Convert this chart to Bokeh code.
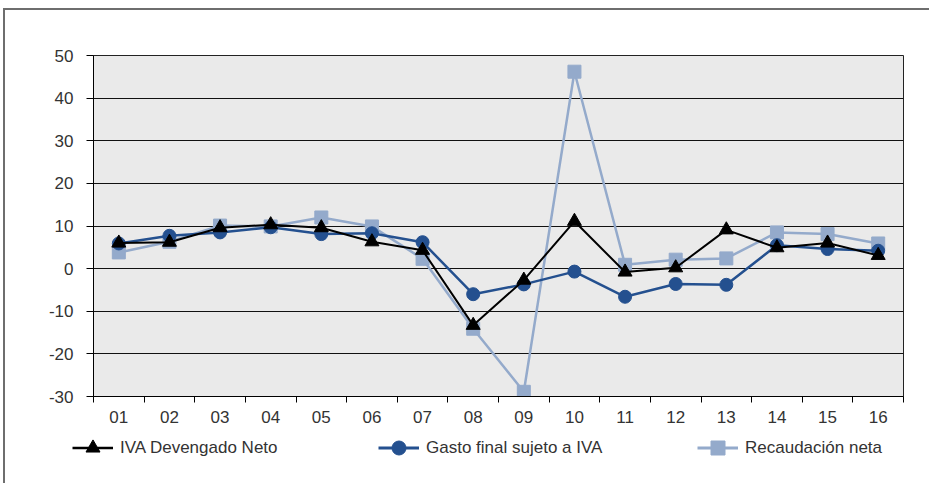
from bokeh.plotting import figure
from bokeh.layouts import column
from bokeh.models import Legend, LegendItem, FixedTicker, Range1d
from bokeh.embed import file_html
from bokeh.resources import INLINE

categories = ["01", "02", "03", "04", "05", "06", "07", "08",
              "09", "10", "11", "12", "13", "14", "15", "16"]
iva_devengado = [6.0, 6.2, 9.6, 10.3, 9.6, 6.3, 4.3, -13.3,
                 -2.7, 11.1, -0.8, 0.2, 9.1, 4.9, 6.0, 3.1]
gasto_final = [5.9, 7.7, 8.5, 9.7, 8.1, 8.3, 6.2, -6.0,
               -3.7, -0.7, -6.6, -3.6, -3.8, 5.5, 4.6, 4.2]
recaudacion = [3.8, 6.3, 10.1, 9.9, 12.0, 9.9, 2.3, -14.1,
               -28.9, 46.2, 0.9, 2.1, 2.4, 8.5, 8.1, 5.9]
y_ticks = [-30, -20, -10, 0, 10, 20, 30, 40, 50]
series_names = ["IVA Devengado Neto", "Gasto final sujeto a IVA", "Recaudación neta"]

x = list(range(1, len(categories) + 1))
FONT = "Liberation Sans"
TXT = "#333333"
light = "#94AACB"
blue = "#24508F"

p = figure(width=924, height=415, output_backend="svg", toolbar_location=None,
           x_range=Range1d(0.5, len(categories) + 0.5),
           y_range=Range1d(y_ticks[0], y_ticks[-1]),
           min_border_left=88, min_border_right=26, min_border_top=45,
           min_border_bottom=28)
p.frame_align = False
p.background_fill_color = "#EAEAEA"
p.border_fill_color = "white"
p.outline_line_color = "#222222"
p.outline_line_width = 1

# grid
p.xgrid.grid_line_color = None
p.ygrid.grid_line_color = "#111111"
p.ygrid.grid_line_width = 1.2
p.ygrid.ticker = FixedTicker(ticks=y_ticks)

# axes
p.yaxis.ticker = FixedTicker(ticks=y_ticks)
p.yaxis.major_label_overrides = {t: str(t) for t in y_ticks}
p.yaxis.major_tick_out = 7
p.yaxis.major_tick_in = 0
p.yaxis.minor_tick_line_color = None
p.yaxis.axis_line_color = "black"
p.yaxis.major_tick_line_color = "black"
p.yaxis.major_label_text_font = FONT
p.yaxis.major_label_text_font_size = "17px"
p.yaxis.major_label_text_color = TXT
p.yaxis.major_label_standoff = 13

p.xaxis.ticker = FixedTicker(ticks=x, minor_ticks=[i - 0.5 for i in x] + [x[-1] + 0.5])
p.xaxis.major_label_overrides = {i: c for i, c in zip(x, categories)}
p.xaxis.major_tick_line_color = None
p.xaxis.minor_tick_out = 6
p.xaxis.minor_tick_in = 0
p.xaxis.minor_tick_line_color = "black"
p.xaxis.axis_line_color = "black"
p.xaxis.major_label_text_font = FONT
p.xaxis.major_label_text_font_size = "17px"
p.xaxis.major_label_text_color = TXT
p.xaxis.major_label_standoff = 8

# series
series = [recaudacion, gasto_final, iva_devengado]
looks = [(light, "square", 2.5, 13), (blue, "circle", 2.5, 13), ("black", "triangle", 2, 14)]
for vals, (c, m, lw, sz) in zip(series, looks):
    p.line(x, vals, line_color=c, line_width=lw)
    p.scatter(x, vals, marker=m, size=sz, fill_color=c, line_color=c)

# legend strip (its own frame, ranges far away so only legend glyphs show)
leg = figure(width=924, height=58, output_backend="svg", toolbar_location=None,
             x_range=Range1d(1000, 1001), y_range=Range1d(1000, 1001),
             x_axis_location=None, y_axis_location=None,
             min_border_left=0, min_border_right=0, min_border_top=0, min_border_bottom=0)
leg.frame_align = False
leg.grid.visible = False
leg.outline_line_color = None
leg.background_fill_color = "white"
leg.border_fill_color = "white"

order = [2, 1, 0]
xpos = [67, 373, 692]
for name, idx, xp in zip(series_names, order, xpos):
    c, m, lw, sz = looks[idx]
    lr = leg.line(x, series[idx], line_color=c, line_width=lw + 0.5)
    sr = leg.scatter(x, series[idx], marker=m, size=sz, fill_color=c, line_color=c)
    lg = Legend(items=[LegendItem(label=name, renderers=[lr, sr])],
                location=(xp, 18), padding=0, margin=0, spacing=0,
                glyph_width=41, glyph_height=35, label_standoff=7,
                label_text_font=FONT, label_text_font_size="17px",
                label_text_color=TXT, border_line_color=None,
                background_fill_alpha=0)
    leg.add_layout(lg, "center")

layout = column(p, leg, spacing=0,
                styles={"border-top": "2px solid #6e6e6e",
                        "border-left": "2px solid #6e6e6e",
                        "margin-left": "3px", "margin-top": "8px"})

open("out.html", "w").write(file_html(layout, INLINE))
